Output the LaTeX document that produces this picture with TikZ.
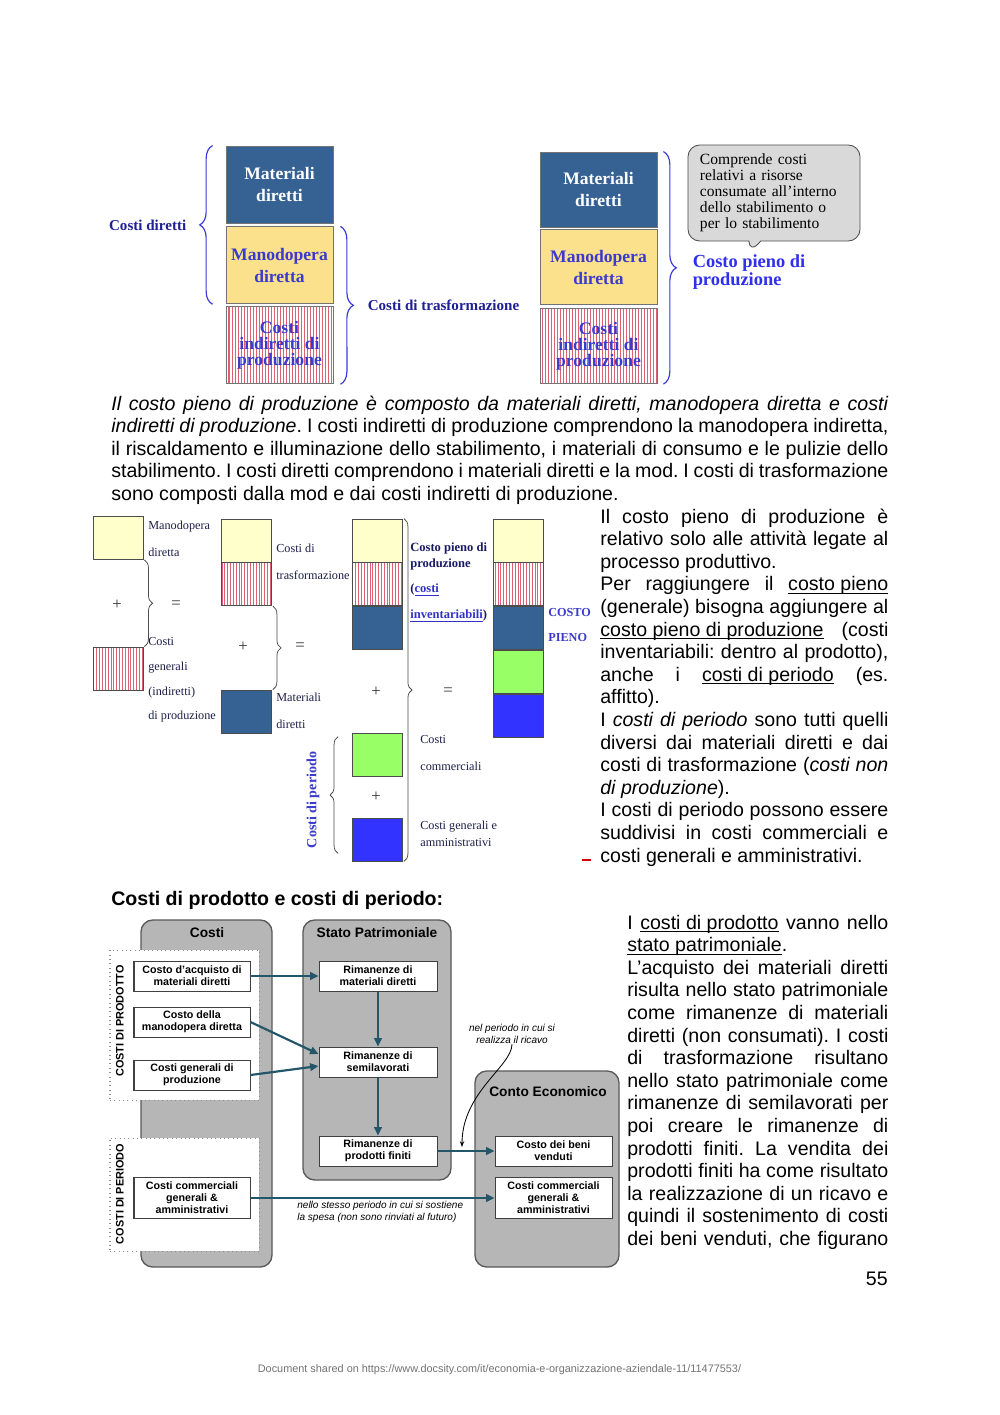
\documentclass[tikz,border=0pt]{standalone}
\usepackage{fontspec}
\setmainfont{Liberation Sans}
\newfontfamily\serifface{Liberation Serif}
\usepackage{tikz}
\usetikzlibrary{positioning, calc, arrows.meta, patterns.meta,
  decorations.pathreplacing, shapes.callouts}

\newcommand{\pxu}{0.021cm}
\newsavebox\undlbox
\newcommand{\undl}[1]{\sbox\undlbox{#1}\rlap{\rule[-1.9pt]{\wd\undlbox}{0.6pt}}\usebox\undlbox}
\frenchspacing

\definecolor{matblue}{RGB}{54,97,147}
\definecolor{modyellow}{RGB}{251,225,140}
\definecolor{paleyellow}{RGB}{255,255,204}
\definecolor{stripered}{RGB}{222,96,114}
\definecolor{comgreen}{RGB}{153,255,102}
\definecolor{genblue}{RGB}{51,51,255}
\definecolor{modtext}{RGB}{58,58,205}
\definecolor{labelblue}{RGB}{32,32,150}
\definecolor{braceblue}{RGB}{58,58,222}
\definecolor{pienoblue}{RGB}{48,48,235}
\definecolor{midtext}{RGB}{30,30,72}
\definecolor{midnavy}{RGB}{26,26,100}
\definecolor{linkblue}{RGB}{50,50,200}
\definecolor{callgray}{RGB}{217,217,217}
\definecolor{panelgray}{RGB}{182,182,182}
\definecolor{tealarrow}{RGB}{34,86,104}

\tikzset{
  costbox/.style={rectangle, draw=black!55, line width=0.5pt,
                  minimum width=107*\pxu, minimum height=77*\pxu,
                  inner sep=0pt, align=center,
                  font=\serifface\bfseries\fontsize{10.5}{12.8}\selectfont},
  costmat/.style={costbox, fill=matblue, text=white},
  costmod/.style={costbox, fill=modyellow, text=modtext},
  costind/.style={costbox, preaction={fill=white},
                  pattern={Lines[angle=90, distance=1.8pt, line width=0.6pt]},
                  pattern color=stripered, text=modtext,
                  font=\serifface\bfseries\fontsize{10.5}{9.4}\selectfont},
  bluebrace/.style={decorate, decoration={brace, amplitude=0.27cm},
                    draw=braceblue, line width=0.7pt},
  toplabel/.style={inner sep=0pt, text=labelblue,
                   font=\serifface\bfseries\fontsize{9}{10}\selectfont},
  pienolabel/.style={inner sep=0pt, align=left, text=pienoblue,
                     font=\serifface\bfseries\fontsize{11}{10.8}\selectfont},
  callout/.style={rectangle callout, rounded corners=7pt, fill=callgray,
                  draw=black!70, line width=0.5pt, align=left,
                  text width=3.108cm, inner xsep=0.252cm, inner ysep=0pt,
                  minimum height=96*\pxu,
                  font=\serifface\fontsize{9.3}{9.6}\selectfont},
  sq/.style={rectangle, draw=black!70, line width=0.45pt,
             minimum width=50*\pxu, minimum height=43*\pxu, inner sep=0pt},
  sqmod/.style={sq, fill=paleyellow},
  sqind/.style={sq, preaction={fill=white},
                pattern={Lines[angle=90, distance=1.7pt, line width=0.5pt]},
                pattern color=stripered},
  sqmat/.style={sq, fill=matblue},
  sqcom/.style={sq, fill=comgreen},
  sqgen/.style={sq, fill=genblue},
  midlabel/.style={anchor=west, align=left, inner sep=0pt, text=midtext,
                   font=\serifface\fontsize{7.3}{16}\selectfont},
  opsign/.style={inner sep=0pt, text=black!80,
                 font=\serifface\fontsize{10}{10}\selectfont},
  thinbrace/.style={decorate, decoration={brace, amplitude=0.17cm},
                    draw=black!70, line width=0.45pt},
  panel/.style={rectangle, rounded corners=7pt, fill=panelgray,
                draw=black!65, line width=0.8pt, inner sep=0pt},
  panelhead/.style={inner sep=0pt, font=\bfseries\fontsize{8.2}{9}\selectfont},
  groupbox/.style={rectangle, fill=white, draw=black!45, dotted,
                   line width=0.6pt, inner sep=0pt},
  grouplabel/.style={rotate=90, inner sep=0pt,
                     font=\bfseries\fontsize{6.5}{7}\selectfont},
  flowbox/.style={rectangle, fill=white, draw=black!75, line width=0.6pt,
                  minimum width=116*\pxu, minimum height=30*\pxu,
                  inner sep=1pt, align=center,
                  font=\bfseries\fontsize{6.4}{7.2}\selectfont},
  flow/.style={-{Triangle[length=5pt, width=4.5pt]}, draw=tealarrow,
               line width=1.3pt},
  sidenote/.style={inner sep=0pt, align=center,
                   font=\itshape\fontsize{6}{7.4}\selectfont},
  noteline/.style={-{Stealth[length=3.5pt]}, draw=black, line width=0.5pt},
  bodyline/.style={anchor=base west, inner sep=0pt,
                   font=\fontsize{11.7}{13.45}\selectfont},
}

\begin{document}
\begin{tikzpicture}[x=\pxu, y=-\pxu]
  \fill[white] (0,0) rectangle (1000,1415);
  \useasboundingbox (0,0) rectangle (1000,1415);

  % First figure: the three cost blocks
  \node[costmat] (mat1) at (279.5,184.5) {Materiali\\diretti};
  \node[costmod, below=0.063cm of mat1] (mod1) {Manodopera\\diretta};
  \node[costind, below=0.042cm of mod1] (ind1) {Costi\\indiretti di\\produzione};

  \draw[bluebrace] ($(mod1.south west)+(-13,0)$) -- ($(mat1.north west)+(-13,0)$);
  \node[toplabel, anchor=east] (dirlabel)
    at ($(mat1.north west)!0.5!(mod1.south west)+(-39,0)$) {Costi diretti};
  \draw[bluebrace] ($(mod1.north east)+(7,0)$) -- ($(ind1.south east)+(7,0)$);
  \node[toplabel, anchor=west] (trasflabel)
    at ($(mod1.north east)!0.5!(ind1.south east)+(34,0)$) {Costi di trasformazione};

  \node[costmat, minimum width=117*\pxu, minimum height=75*\pxu] (mat2)
    at (598.5,189.5) {Materiali\\diretti};
  \node[costmod, minimum width=117*\pxu, minimum height=75*\pxu,
        below=0.042cm of mat2] (mod2) {Manodopera\\diretta};
  \node[costind, minimum width=117*\pxu, minimum height=75*\pxu,
        below=0.063cm of mod2] (ind2) {Costi\\indiretti di\\produzione};

  \draw[bluebrace] ($(mat2.north east)+(6,0)$) -- ($(ind2.south east)+(6,0)$);
  \node[pienolabel, anchor=west] (pienolabel)
    at ($(mat2.north east)!0.5!(ind2.south east)+(35,4)$) {Costo pieno di\\produzione};
  \node[callout, callout absolute pointer={(750,253)}] (note) at (774,193)
    {Comprende costi\\relativi a risorse\\consumate all’interno\\dello stabilimento o\\per lo stabilimento};

  % Paragraph under the first figure
  \foreach \linetxt [count=\i] in {
      {\textit{Il costo pieno di produzione è composto da materiali diretti, manodopera diretta e costi}},
      {\textit{indiretti di produzione}. I costi indiretti di produzione comprendono la manodopera indiretta,},
      {il riscaldamento e illuminazione dello stabilimento, i materiali di consumo e le pulizie dello},
      {stabilimento. I costi diretti comprendono i materiali diretti e la mod. I costi di trasformazione},
      {sono composti dalla mod e dai costi indiretti di produzione.\hfill}}
    \node[bodyline] (par\i) at (111, {410+22.5*(\i-1)}) {\makebox[16.317cm][s]{\linetxt}};

  % Second figure: building up the full cost
  \node[sqmod] (aMod) at (118,538) {};
  \node[sqind] (aInd) at (118,668.5) {};
  \draw[thinbrace] ($(aMod.south east)+(1,0)$) -- ($(aInd.north east)+(1,0)$);
  \node[opsign] (aPlus) at (117,605) {+};
  \node[opsign] (aEq) at (176,605) {=};
  \node[midlabel] (modlabel) at (148,538.5) {Manodopera\\diretta};
  \node[midlabel, font=\serifface\fontsize{7.3}{14.7}\selectfont] (genlabel)
    at (148,680) {Costi\\generali\\(indiretti)\\di produzione};

  \node[sqmod] (bMod) at (246.5,540.5) {};
  \node[sqind, below=0pt of bMod] (bInd) {};
  \node[sqmat] (bMat) at (246.5,711.5) {};
  \draw[thinbrace] ($(bInd.south east)+(1,0)$) -- ($(bMat.north east)+(1,0)$);
  \node[opsign] (bPlus) at (243,647) {+};
  \node[opsign] (bEq) at (300,647) {=};
  \node[midlabel] (trasflbl) at (276,562) {Costi di\\trasformazione};
  \node[midlabel] (matlbl) at (276,710.5) {Materiali\\diretti};

  \node[sqmod] (cMod) at (377.5,540.5) {};
  \node[sqind, below=0pt of cMod] (cInd) {};
  \node[sqmat, below=0pt of cInd] (cMat) {};
  \node[sqcom] (cCom) at (377.5,754.5) {};
  \node[sqgen] (cGen) at (377.5,839.5) {};
  \draw[thinbrace] ($(cMod.north east)+(1,0)$) -- ($(cGen.south east)+(1,0)$);
  \draw[thinbrace] ($(cGen.south west)+(-14,-8)$) -- ($(cCom.north west)+(-14,4)$);
  \node[opsign] (cPlus) at (376,692) {+};
  \node[opsign] (cEq) at (448,692) {=};
  \node[opsign] (cPlus2) at (376,797) {+};
  \node[rotate=90, inner sep=0pt, text=modtext,
        font=\serifface\bfseries\fontsize{8.4}{9}\selectfont] (perlabel)
    at (313,800) {Costi di periodo};
  \node[midlabel, text=midnavy, font=\serifface\bfseries\fontsize{7.5}{10}\selectfont]
    (prodlbl) at (410,582)
    {Costo pieno di\\produzione\\[4.8pt](\textcolor{linkblue}{\undl{costi}}\\[5.4pt]\textcolor{linkblue}{\undl{inventariabili}})};
  \node[midlabel] (comlbl) at (420,753) {Costi\\commerciali};
  \node[midlabel, font=\serifface\fontsize{7.3}{10}\selectfont] (gamlbl)
    at (420,833.5) {Costi generali e\\amministrativi};

  \node[sqmod] (dMod) at (518,540.5) {};
  \node[sqind, below=0pt of dMod] (dInd) {};
  \node[sqmat, below=0pt of dInd] (dMat) {};
  \node[sqcom, below=0pt of dMat] (dCom) {};
  \node[sqgen, below=0pt of dCom] (dGen) {};
  \node[midlabel, text=modtext, font=\serifface\bfseries\fontsize{7.3}{15.5}\selectfont]
    (pienolbl) at (548,625) {COSTO\\PIENO};

  \draw[red!85!black, line width=1.3pt] (582,860) -- (591,860);

  % Text beside the second figure
  \foreach \linetxt [count=\i] in {
      {Il costo pieno di produzione è},
      {relativo solo alle attività legate al},
      {processo produttivo.\hfill},
      {Per raggiungere il \undl{costo pieno}},
      {(generale) bisogna aggiungere al},
      {\undl{costo pieno di produzione} (costi},
      {inventariabili: dentro al prodotto),},
      {anche i \undl{costi di periodo} (es.},
      {affitto).\hfill},
      {I \textit{costi di periodo} sono tutti quelli},
      {diversi dai materiali diretti e dai},
      {costi di trasformazione (\textit{costi non}},
      {\textit{di produzione}).\hfill},
      {I costi di periodo possono essere},
      {suddivisi in costi commerciali e},
      {costi generali e amministrativi.\hfill}}
    \node[bodyline] (side\i) at (600, {523+22.6*(\i-1)}) {\makebox[6.048cm][s]{\linetxt}};

  \node[bodyline, font=\bfseries\fontsize{11.7}{13.45}\selectfont] (heading)
    at (111,905) {Costi di prodotto e costi di periodo:};

  % Third figure: where the costs end up
  \node[panel, minimum width=131*\pxu, minimum height=347*\pxu] (costipanel) at (206.5,1093.5) {};
  \node[panel, minimum width=148*\pxu, minimum height=260*\pxu] (sppanel) at (377,1050) {};
  \node[panel, minimum width=144*\pxu, minimum height=196*\pxu] (cepanel) at (547,1169) {};
  \node[groupbox, minimum width=149*\pxu, minimum height=150*\pxu] (grpprod) at (184.5,1025) {};
  \node[groupbox, minimum width=149*\pxu, minimum height=113*\pxu] (grpper) at (184.5,1194.5) {};

  \node[panelhead] (costihead) at (207,933) {Costi};
  \node[panelhead] (sphead) at (377,933) {Stato Patrimoniale};
  \node[panelhead] (cehead) at (548,1092) {Conto Economico};
  \node[grouplabel] (prodtag) at (120,1021) {COSTI DI PRODOTTO};
  \node[grouplabel] (pertag) at (120,1194) {COSTI DI PERIODO};

  \node[flowbox] (acq) at (192,976) {Costo d’acquisto di\\materiali diretti};
  \node[flowbox] (mod) at (192,1022) {Costo della\\manodopera diretta};
  \node[flowbox] (gen) at (192,1075) {Costi generali di\\produzione};
  \node[flowbox, minimum height=41*\pxu] (comm) at (192,1198) {Costi commerciali\\generali \&\\amministrativi};
  \node[flowbox, minimum width=118*\pxu] (rimmat) at (378,976) {Rimanenze di\\materiali diretti};
  \node[flowbox, minimum width=118*\pxu] (rimsemi) at (378,1062) {Rimanenze di\\semilavorati};
  \node[flowbox, minimum width=118*\pxu] (rimprod) at (378,1151) {Rimanenze di\\prodotti finiti};
  \node[flowbox, minimum width=117*\pxu] (cogs) at (553.5,1151) {Costo dei beni\\venduti};
  \node[flowbox, minimum width=117*\pxu, minimum height=41*\pxu] (cecomm) at (553.5,1198)
    {Costi commerciali\\generali \&\\amministrativi};

  \draw[flow] (acq) -- (rimmat);
  \draw[flow] (mod.east) -- ($(rimsemi.west)+(0,-8)$);
  \draw[flow] (gen.east) -- ($(rimsemi.west)+(0,4)$);
  \draw[flow] (rimmat) -- (rimsemi);
  \draw[flow] (rimsemi) -- (rimprod);
  \draw[flow] (rimprod) -- (cogs);
  \draw[flow] (comm) -- (cecomm);

  \node[sidenote] (ricavo) at (512,1034) {nel periodo in cui si\\realizza il ricavo};
  \draw[noteline] (ricavo.south) .. controls +(0,22) and +(0,-55) ..
    ($(rimprod.east)!0.43!(cogs.west)+(0,-4)$);
  \node[sidenote, align=left, anchor=west] (spesa) at (297,1212)
    {nello stesso periodo in cui si sostiene\\la spesa (non sono rinviati al futuro)};

  % Text beside the third figure
  \foreach \linetxt [count=\i] in {
      {I \undl{costi di prodotto} vanno nello},
      {\undl{stato patrimoniale}.\hfill},
      {L’acquisto dei materiali diretti},
      {risulta nello stato patrimoniale},
      {come rimanenze di materiali},
      {diretti (non consumati). I costi},
      {di trasformazione risultano},
      {nello stato patrimoniale come},
      {rimanenze di semilavorati per},
      {poi creare le rimanenze di},
      {prodotti finiti. La vendita dei},
      {prodotti finiti ha come risultato},
      {la realizzazione di un ricavo e},
      {quindi il sostenimento di costi},
      {dei beni venduti, che figurano}}
    \node[bodyline] (low\i) at (627, {929+22.6*(\i-1)}) {\makebox[5.481cm][s]{\linetxt}};

  \node[bodyline, anchor=base east] (pagenum) at (888,1285) {55};
  \node[inner sep=0pt, anchor=base, text=black!55, font=\fontsize{6.5}{7}\selectfont]
    (footer) at (499.5,1372)
    {Document shared on https://www.docsity.com/it/economia-e-organizzazione-aziendale-11/11477553/};
\end{tikzpicture}
\end{document}
